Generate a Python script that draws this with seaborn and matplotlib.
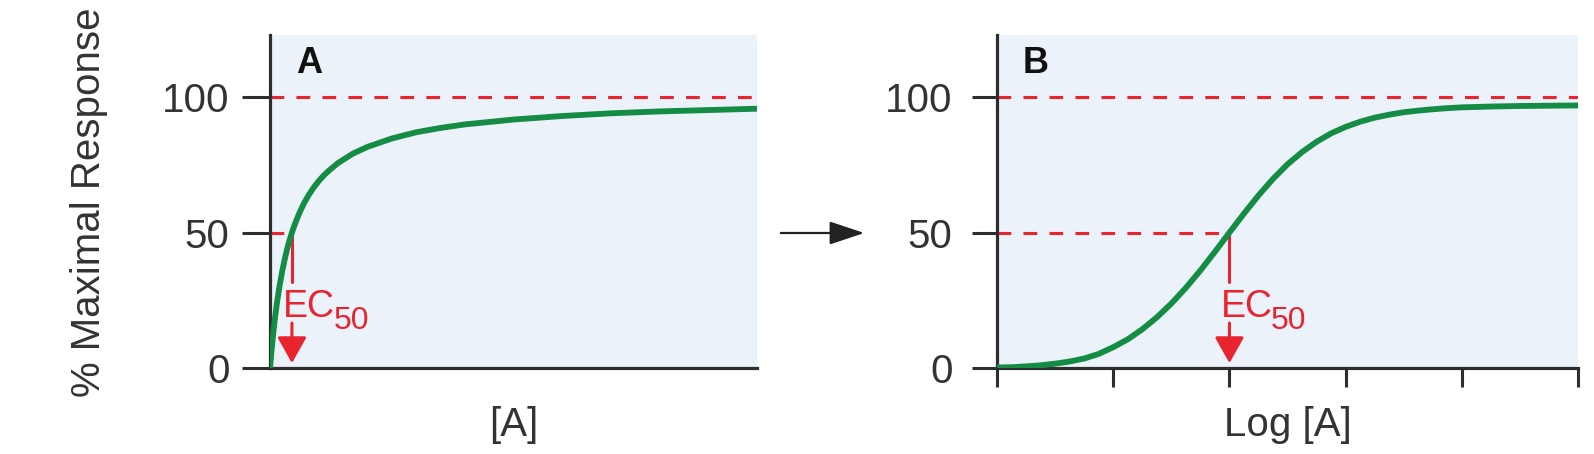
import matplotlib
matplotlib.use("Agg")
import matplotlib.pyplot as plt
import seaborn as sns

sns.set_style("white")
plt.rcParams["font.family"] = ["Liberation Sans", "DejaVu Sans"]

# ------------------------------------------------------------
# values
# ------------------------------------------------------------
# panel A: % response against agonist concentration [A]
conc = [0, 0.25, 0.5, 0.75, 1, 1.25, 1.5, 2, 2.5, 3, 3.5, 4, 4.5, 5, 6, 7,
        8, 9, 10, 11, 12, 14, 17, 20, 25, 30, 35, 40, 50, 60, 70, 80, 90, 100]
resp_a = [0, 5.3, 10.0, 14.3, 18.2, 21.7, 25.0, 30.8, 35.7, 40.0, 43.8,
          47.1, 50.0, 52.6, 57.1, 60.9, 64.0, 66.7, 69.0, 71.0, 72.7, 75.7,
          79.1, 81.6, 84.7, 87.0, 88.6, 89.9, 91.7, 93.0, 94.0, 94.7, 95.2,
          95.7]
ec50_a = 4.5

# panel B: % response against log [A]
log_conc = [0, 0.125, 0.25, 0.375, 0.5, 0.625, 0.75, 0.875, 1.0, 1.125,
            1.25, 1.375, 1.5, 1.625, 1.75, 1.875, 2.0, 2.125, 2.25, 2.375,
            2.5, 2.625, 2.75, 2.875, 3.0, 3.125, 3.25, 3.375, 3.5, 3.625,
            3.75, 3.875, 4.0, 4.25, 4.5, 4.75, 5.0]
resp_b = [0.2, 0.3, 0.6, 1.0, 1.6, 2.4, 3.5, 5.2, 7.7, 10.6, 14.3, 18.7,
          23.8, 29.6, 36.0, 42.9, 50.0, 57.0, 63.7, 69.8, 75.2, 79.7, 83.5,
          86.6, 89.0, 90.9, 92.4, 93.5, 94.4, 95.0, 95.5, 95.9, 96.2, 96.5,
          96.7, 96.8, 96.9]
ec50_b = 2.0

y_ticks = [0, 50, 100]
log_ticks = [0, 1, 2, 3, 4, 5]
max_level = 100
half_level = 50

GREEN = "#148c43"
RED = "#e8242f"
AXIS = "#2e2e2e"
BG = "#ebf2fa"

fig = plt.figure(figsize=(15.94, 4.54), dpi=100)
ax_a = fig.add_axes([0.1694, 0.1894, 0.3055, 0.7335])
ax_b = fig.add_axes([0.6255, 0.1894, 0.3645, 0.7335])


def draw_panel(ax, x, y, ec50, xlim, letter, xlabel, ytick_len, ytick_pad):
    ax.set_facecolor(BG)
    ax.set_xlim(*xlim)
    ax.set_ylim(0, 122.9)

    # reference lines
    ax.axhline(max_level, color=RED, lw=2.2, ls=(0, (4.5, 4.0)), zorder=2)
    ax.plot([xlim[0], ec50], [half_level, half_level], color=RED, lw=2.2,
            ls=(0, (4.5, 4.0)), zorder=2)
    ax.plot([ec50, ec50], [half_level, 31.7], color=RED, lw=2.2, zorder=2)
    ax.annotate("", xy=(ec50, 1.8), xytext=(ec50, 16.6),
                arrowprops=dict(arrowstyle="-|>,head_length=0.8,head_width=0.45",
                                color=RED, lw=2.2, mutation_scale=20,
                                shrinkA=0, shrinkB=0))

    # the curve
    sns.lineplot(x=x, y=y, ax=ax, color=GREEN, lw=4.2, zorder=3)

    # EC50 label
    ec = ax.annotate("EC", xy=(ec50, half_level), xytext=(-6.5, -61),
                     textcoords="offset points", ha="left", va="baseline",
                     fontsize=27, color=RED, zorder=4)
    ax.annotate("50", xy=(1, 0), xycoords=ec, xytext=(-1, -2.5),
                textcoords="offset points", ha="left", va="baseline",
                fontsize=23, color=RED, zorder=4)

    # panel letter
    ax.text(26 / (ax.get_position().width * 1594), 0.915, letter,
            transform=ax.transAxes, ha="left", va="center",
            fontsize=26, fontweight="bold", color="#111111")

    for side in ["top", "right"]:
        ax.spines[side].set_visible(False)
    for side in ["left", "bottom"]:
        ax.spines[side].set_color(AXIS)
        ax.spines[side].set_linewidth(2.3)

    ax.set_yticks(y_ticks)
    ax.set_yticklabels([str(v) for v in y_ticks])
    ax.tick_params(axis="y", left=True, length=ytick_len, width=2.2,
                   color=AXIS, pad=ytick_pad, labelsize=29,
                   labelcolor="#333333")
    ax.set_xlabel(xlabel, fontsize=29, color="#333333")
    ax.xaxis.set_label_coords(0.5, -0.114)
    ax.set_ylabel("")


draw_panel(ax_a, conc, resp_a, ec50_a, (0, 100), "A", "[A]", 20, 9)
ax_a.set_xticks([])
ax_a.set_ylabel("% Maximal Response", fontsize=29, color="#333333")
ax_a.yaxis.set_label_coords(-0.3326, 0.497)

draw_panel(ax_b, log_conc, resp_b, ec50_b, (0, 5), "B", "Log [A]", 18, 14)
ax_b.set_xticks(log_ticks)
ax_b.set_xticklabels([])
ax_b.tick_params(axis="x", bottom=True, length=13.7, width=2.2, color=AXIS,
                 direction="out")

# arrow between the two panels
fig.patches.append(matplotlib.patches.FancyArrowPatch(
    (778 / 1594, 1 - 233 / 454), (867 / 1594, 1 - 233 / 454),
    transform=fig.transFigure, arrowstyle="-|>,head_length=1.08,head_width=0.36",
    mutation_scale=20, color="#222222", lw=1.6))

fig.savefig("out.png", dpi=100)
